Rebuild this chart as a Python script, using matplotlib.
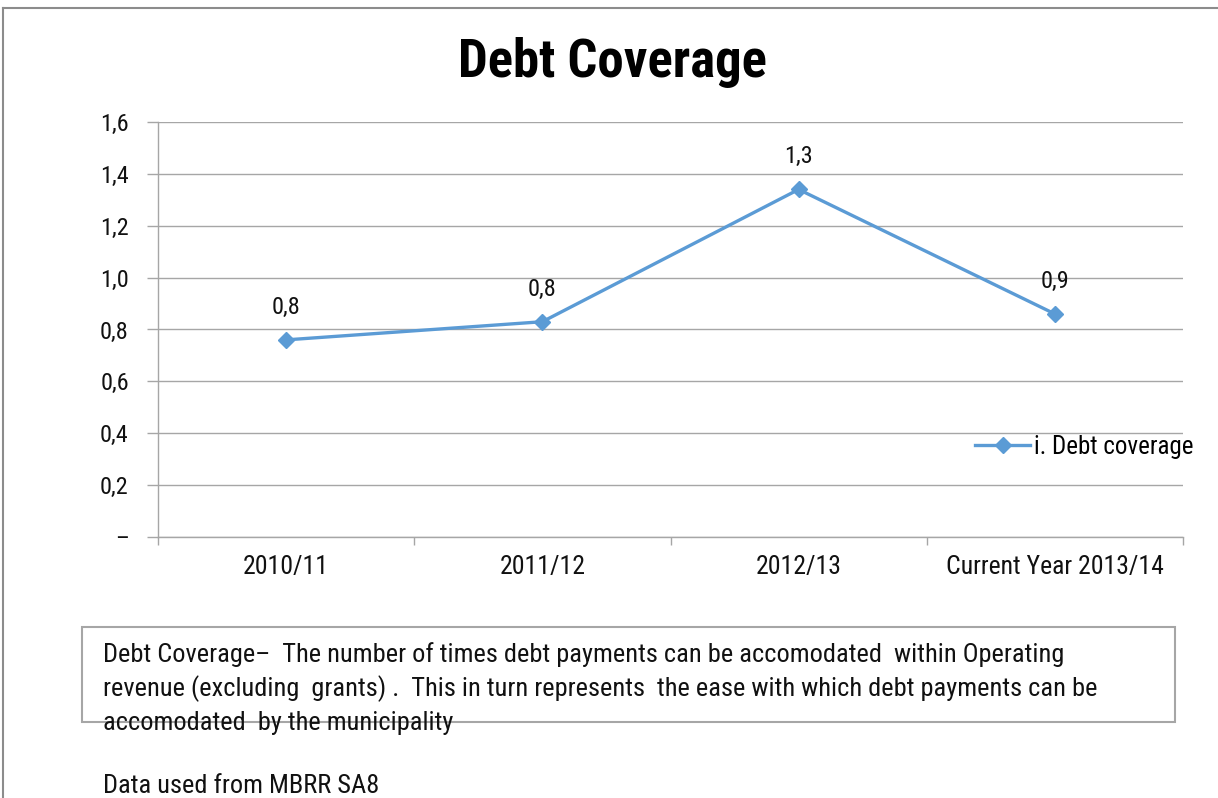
import matplotlib
matplotlib.use("Agg")
import matplotlib.pyplot as plt
from matplotlib.lines import Line2D
from matplotlib.patches import Rectangle

categories = ["2010/11", "2011/12", "2012/13", "Current Year 2013/14"]
values = [0.76, 0.83, 1.34, 0.86]
series_name = "i. Debt coverage"
ytick_values = [0.0, 0.2, 0.4, 0.6, 0.8, 1.0, 1.2, 1.4, 1.6]
ytick_labels = ["–", "0,2", "0,4", "0,6", "0,8", "1,0", "1,2", "1,4", "1,6"]
title = "Debt Coverage"
note_lines = [
    "Debt Coverage–  The number of times debt payments can be accomodated  within Operating",
    "revenue (excluding  grants) .  This in turn represents  the ease with which debt payments can be",
    "accomodated  by the municipality",
]
source_text = "Data used from MBRR SA8"

FONT = ["Roboto Condensed", "Archivo Narrow", "Liberation Sans", "DejaVu Sans"]
plt.rcParams["font.family"] = FONT

W, H = 1218, 798
fig = plt.figure(figsize=(W / 100, H / 100), dpi=100)
fig.patch.set_facecolor("white")

def fx(px):
    return px / W

def fy(py):
    return 1 - py / H

TXT = "#111111"

# outer frame (top and left)
fig.add_artist(Line2D([fx(3), 1.0], [fy(8), fy(8)], color="#8c8c8c", lw=1.5))
fig.add_artist(Line2D([fx(3), fx(3)], [fy(8), 0.0], color="#8c8c8c", lw=1.5))

ax = fig.add_axes([fx(158), fy(537), fx(1183) - fx(158), fy(122) - fy(537)])
line_color = "#5B9BD5"
grid_color = "#a6a6a6"

x = list(range(len(categories)))
ax.plot(x, values, color=line_color, lw=2.4, marker="D", markersize=8,
        markeredgecolor=line_color, markerfacecolor=line_color, label=series_name,
        zorder=3)

for xi, v in zip(x, values):
    ax.annotate(f"{v:.1f}".replace(".", ","), (xi, v), xytext=(0, 21),
                textcoords="offset pixels", ha="center", va="bottom",
                fontsize=17.5, color=TXT)

ax.set_xlim(-0.5, len(categories) - 0.5)
ax.set_ylim(0, 1.6)
ax.set_yticks(ytick_values)
ax.set_yticklabels(ytick_labels, fontsize=17.5)
ax.yaxis.grid(True, color=grid_color, lw=1)
ax.set_axisbelow(True)
ax.tick_params(axis="y", length=8, width=1, color=grid_color, pad=13, labelcolor=TXT)

ax.set_xticks(x)
ax.set_xticklabels(categories, fontsize=18.5, color=TXT)
ax.set_xticks([i - 0.5 for i in range(len(categories) + 1)], minor=True)
ax.tick_params(axis="x", which="major", length=0, pad=13)
ax.tick_params(axis="x", which="minor", length=6, width=1, color=grid_color)

for s in ["top", "right"]:
    ax.spines[s].set_visible(False)
for s in ["left", "bottom"]:
    ax.spines[s].set_color(grid_color)
    ax.spines[s].set_linewidth(1)

leg = ax.legend(loc="center left", bbox_to_anchor=(fx(975), fy(447)),
                bbox_transform=fig.transFigure, frameon=False, fontsize=18,
                handlelength=2.2, handletextpad=0.15, borderpad=0, borderaxespad=0)

fig.text(fx(612), fy(62), title, ha="center", va="center", fontsize=38,
         fontweight="bold", color="black")

# note box
fig.add_artist(Rectangle((fx(82), fy(722)), fx(1175) - fx(82), fy(627) - fy(722),
                         transform=fig.transFigure, fill=False,
                         edgecolor="#a6a6a6", lw=1.5, zorder=1))
for i, t in enumerate(note_lines):
    fig.text(fx(103), fy(655 + 34 * i), t, ha="left", va="center", fontsize=19,
             color=TXT, zorder=2)
fig.text(fx(103), fy(786), source_text, ha="left", va="center", fontsize=19,
         color=TXT)

fig.savefig("out.png", dpi=100, facecolor="white")
